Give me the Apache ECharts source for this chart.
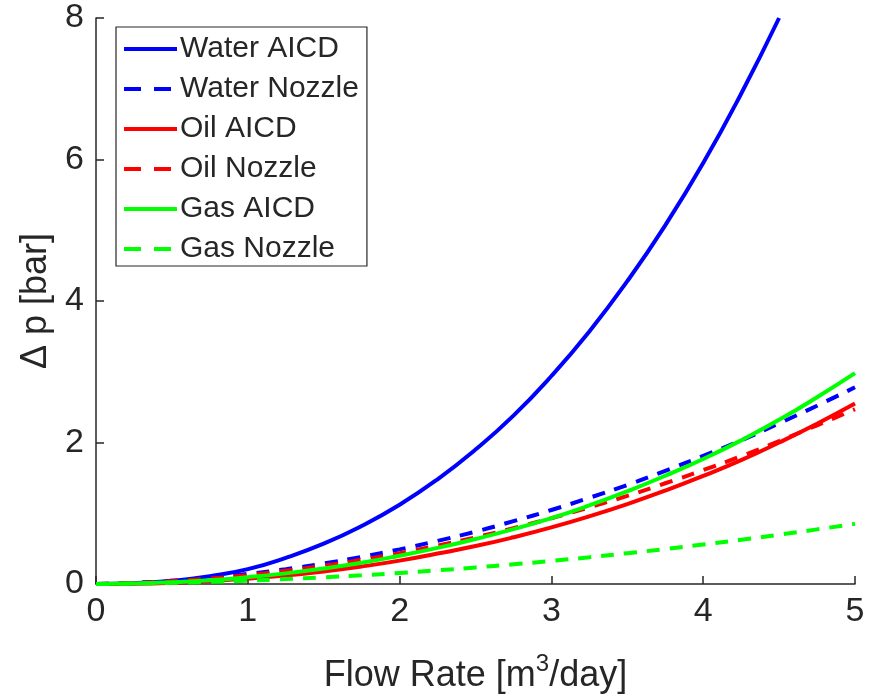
<!DOCTYPE html>
<html>
<head>
<meta charset="utf-8">
<script src="https://cdn.jsdelivr.net/npm/echarts@6/dist/echarts.min.js"></script>
<style>
  html, body { margin: 0; padding: 0; background: #fff; }
  #chart { width: 871px; height: 699px; }
</style>
</head>
<body>
<div id="chart"></div>
<script>
// flow rate [m3/day]
const flowRate = [0, 0.25, 0.5, 0.75, 1, 1.25, 1.5, 1.75, 2, 2.25, 2.5,
  2.75, 3, 3.25, 3.5, 3.75, 4, 4.25, 4.5, 4.75, 5]

// pressure drop [bar]
const waterAicd   = [0, 0.012, 0.045, 0.11, 0.21, 0.37, 0.57, 0.82, 1.12, 1.48, 1.9,
  2.38, 2.94, 3.57, 4.28, 5.07, 5.95, 6.93, 8.0]
const waterNozzle = [0, 0.016, 0.045, 0.087, 0.142, 0.209, 0.29, 0.384, 0.49, 0.61, 0.74,
  0.888, 1.046, 1.218, 1.40, 1.60, 1.81, 2.03, 2.27, 2.52, 2.78]
const oilAicd     = [0, 0.004, 0.018, 0.042, 0.076, 0.121, 0.178, 0.247, 0.33, 0.43, 0.536,
  0.66, 0.80, 0.957, 1.13, 1.32, 1.527, 1.75, 2.0, 2.265, 2.55]
const oilNozzle   = [0, 0.014, 0.04, 0.077, 0.126, 0.186, 0.258, 0.342, 0.436, 0.543, 0.659,
  0.79, 0.93, 1.084, 1.246, 1.424, 1.61, 1.807, 2.02, 2.243, 2.47]
const gasAicd     = [0, 0.007, 0.023, 0.052, 0.096, 0.15, 0.218, 0.30, 0.40, 0.51, 0.636,
  0.775, 0.93, 1.11, 1.31, 1.53, 1.767, 2.03, 2.32, 2.64, 2.98]
const gasNozzle   = [0, 0.006, 0.016, 0.03, 0.047, 0.069, 0.094, 0.123, 0.156, 0.193, 0.234,
  0.278, 0.326, 0.378, 0.435, 0.494, 0.558, 0.625, 0.697, 0.772, 0.85]

const pair = arr => arr.map((v, i) => [flowRate[i], v])

const axisColor = '#262626'
const font = '"Liberation Sans", Arial, sans-serif'
const dash = [13, 10]

const mkSeries = (name, data, color, dashed) => ({
  name: name,
  type: 'line',
  data: pair(data),
  smooth: true,
  symbol: 'none',
  lineStyle: { color: color, width: 4, type: dashed ? dash : 'solid' },
  itemStyle: { color: color }
})

const legendItem = (name, dashed) => dashed
  ? { name: name, lineStyle: { type: [17, 13], width: 4 } }
  : { name: name, lineStyle: { width: 4 } }

const chart = echarts.init(document.getElementById('chart'))

const option = {
  animation: false,
  backgroundColor: '#fff',
  grid: { left: 96, right: 16, top: 18, bottom: 114, containLabel: false },
  legend: {
    orient: 'vertical',
    left: 116,
    top: 27,
    itemWidth: 53,
    itemHeight: 14,
    itemGap: 10,
    padding: [7, 8, 2, 6],
    borderColor: axisColor,
    borderWidth: 1.2,
    backgroundColor: '#fff',
    itemStyle: { opacity: 0 },
    textStyle: { fontFamily: font, fontSize: 30, lineHeight: 30, color: axisColor, padding: [0, 0, 0, -2] },
    data: [
      legendItem('Water AICD', false),
      legendItem('Water Nozzle', true),
      legendItem('Oil AICD', false),
      legendItem('Oil Nozzle', true),
      legendItem('Gas AICD', false),
      legendItem('Gas Nozzle', true)
    ]
  },
  xAxis: {
    type: 'value',
    min: 0, max: 5, interval: 1,
    name: 'Flow Rate [m{sup|3}/day]',
    nameLocation: 'middle',
    nameGap: 68,
    nameTextStyle: {
      fontFamily: font, fontSize: 36, color: axisColor,
      rich: { sup: { fontFamily: font, fontSize: 24, color: axisColor, verticalAlign: 'bottom', padding: [0, 0, 24, 0] } }
    },
    axisLine: { lineStyle: { color: axisColor, width: 1.5 } },
    axisTick: { inside: true, length: 8, lineStyle: { color: axisColor, width: 1.5 } },
    axisLabel: { fontFamily: font, fontSize: 34, color: axisColor, margin: 11 },
    splitLine: { show: false }
  },
  yAxis: {
    type: 'value',
    min: 0, max: 8, interval: 2,
    name: 'Δ p [bar]',
    nameLocation: 'middle',
    nameGap: 40,
    nameRotate: 90,
    nameTextStyle: { fontFamily: font, fontSize: 36, color: axisColor },
    axisLine: { lineStyle: { color: axisColor, width: 1.5 } },
    axisTick: { inside: true, length: 8, lineStyle: { color: axisColor, width: 1.5 } },
    axisLabel: { fontFamily: font, fontSize: 34, color: axisColor, margin: 12 },
    splitLine: { show: false }
  },
  series: [
    mkSeries('Water AICD', waterAicd, '#0000ff', false),
    mkSeries('Water Nozzle', waterNozzle, '#0000ff', true),
    mkSeries('Oil AICD', oilAicd, '#ff0000', false),
    mkSeries('Oil Nozzle', oilNozzle, '#ff0000', true),
    mkSeries('Gas AICD', gasAicd, '#00ff00', false),
    mkSeries('Gas Nozzle', gasNozzle, '#00ff00', true)
  ]
}

chart.setOption(option)
</script>
</body>
</html>
